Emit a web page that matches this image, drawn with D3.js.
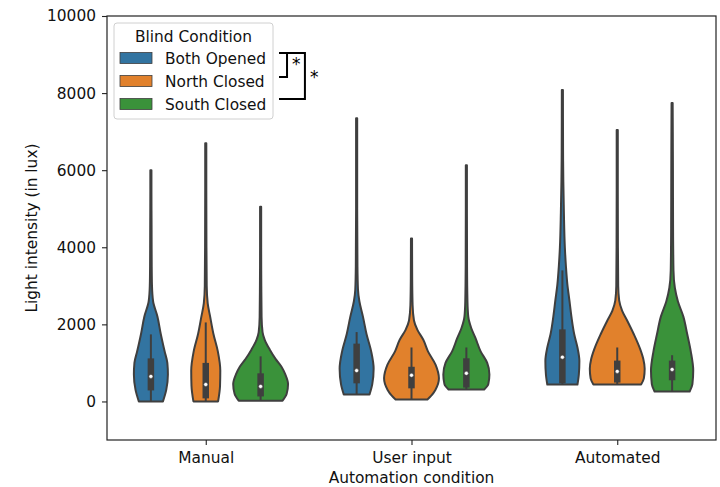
<!DOCTYPE html>
<html><head><meta charset="utf-8">
<script src="https://cdn.jsdelivr.net/npm/d3@7"></script>
<style>
body{margin:0;background:#fff;}
text{font-family:"DejaVu Sans",sans-serif;fill:#111;}
</style></head>
<body><svg id="c" width="720" height="487"></svg>
<script>
// ---- data ----
const categories = ["Manual", "User input", "Automated"];
const hues = ["Both Opened", "North Closed", "South Closed"];
const hueColors = ["#3274a1", "#e1812c", "#3a923a"];
const yTicks = [0, 2000, 4000, 6000, 8000, 10000];

// violin profiles: [light value, relative density (half-width fraction)]
const manualBoth = [[0,0.44],[300,0.56],[700,0.62],[1000,0.6],[1300,0.5],[1750,0.36],[2200,0.24],[2600,0.08],[3000,0.04],[3500,0.03],[4500,0.025],[5500,0.02],[6000,0.02]];
const manualNorth = [[0,0.45],[400,0.52],[800,0.53],[1300,0.44],[1750,0.28],[2200,0.16],[2550,0.07],[3000,0.035],[4000,0.025],[5500,0.02],[6700,0.02]];
const manualSouth = [[20,0.8],[200,0.95],[450,1.0],[700,0.9],[900,0.76],[1100,0.55],[1350,0.33],[1600,0.15],[1800,0.07],[2200,0.035],[3000,0.025],[4000,0.02],[5050,0.02]];
const userBoth = [[180,0.47],[450,0.57],[850,0.62],[1300,0.53],[1750,0.36],[2200,0.23],[2600,0.1],[2900,0.05],[3500,0.03],[5000,0.02],[6500,0.02],[7350,0.02]];
const userNorth = [[50,0.58],[150,0.72],[300,0.87],[600,1.0],[950,0.88],[1300,0.6],[1600,0.43],[1850,0.22],[2100,0.09],[2500,0.04],[3200,0.025],[4230,0.02]];
const userSouth = [[310,0.65],[450,0.8],[700,0.84],[1000,0.76],[1300,0.52],[1650,0.33],[1900,0.18],[2200,0.07],[2600,0.04],[3500,0.025],[5000,0.02],[6130,0.02]];
const autoBoth = [[440,0.55],[700,0.6],[1050,0.62],[1400,0.55],[1750,0.43],[2200,0.33],[2600,0.26],[3050,0.18],[3500,0.13],[4000,0.09],[4900,0.055],[5700,0.035],[6500,0.025],[8080,0.02]];
const autoNorth = [[440,0.87],[600,0.97],[850,1.0],[1100,0.95],[1350,0.84],[1750,0.6],[2100,0.36],[2350,0.18],[2620,0.07],[3000,0.035],[4000,0.025],[5500,0.02],[7040,0.02]];
const autoSouth = [[260,0.64],[450,0.74],[800,0.77],[1300,0.68],[1750,0.55],[2200,0.41],[2600,0.21],[2950,0.1],[3400,0.05],[4500,0.035],[6000,0.03],[7000,0.025],[7740,0.02]];
const profiles = [[manualBoth, manualNorth, manualSouth],[userBoth, userNorth, userSouth],[autoBoth, autoNorth, autoSouth]];

// inner box stats: [whisker low, q1, median, q3, whisker high]
const manualBox = [[0,286,650,1117,1740],[0,80,440,1000,2050],[20,130,390,730,1170]];
const userBox = [[180,470,800,1500,1800],[50,340,680,900,1400],[310,360,730,1120,1400]];
const autoBox = [[440,470,1150,1870,3400],[440,490,780,1060,1400],[260,550,830,1060,1200]];
const boxes = [manualBox, userBox, autoBox];

// significance brackets (category units, lux)
const brackets = [
  {x0:0.356, x1:0.395, yTop:9040, yBot:8417, starX:0.44, starY:8600},
  {x0:0.356, x1:0.482, yTop:9040, yBot:7846, starX:0.527, starY:8260}
];

// ---- layout ----
const svg = d3.select("#c");
const L=107, R=716, T=16, B=440;
const x = d3.scaleLinear().domain([-0.48, 2.48]).range([L, R]);
const y = d3.scaleLinear().domain([-1000, 10000]).range([B, T]);
const hueWidth = 0.8 / hues.length;
const halfW = x(hueWidth/2) - x(0);
const gray = "#3f3f3f";
const FS = 15.4;

const g = svg.append("g");

categories.forEach((cat, ci) => {
  hues.forEach((h, hi) => {
    const cx = x(ci + (hi - 1) * hueWidth);
    const area = d3.area()
      .y(d => y(d[0]))
      .x0(d => cx - halfW * d[1])
      .x1(d => cx + halfW * d[1])
      .curve(d3.curveMonotoneY);
    g.append("path").attr("d", area(profiles[ci][hi]))
      .attr("fill", hueColors[hi]).attr("stroke", gray).attr("stroke-width", 2)
      .attr("stroke-linejoin", "round");
    const b = boxes[ci][hi];
    g.append("line").attr("x1", cx).attr("x2", cx).attr("y1", y(b[0])).attr("y2", y(b[4]))
      .attr("stroke", gray).attr("stroke-width", 2);
    g.append("line").attr("x1", cx).attr("x2", cx).attr("y1", y(b[1])).attr("y2", y(b[3]))
      .attr("stroke", gray).attr("stroke-width", 6.5);
    g.append("circle").attr("cx", cx).attr("cy", y(b[2])).attr("r", 2)
      .attr("fill", "#fff").attr("stroke", gray).attr("stroke-width", 0.5);
  });
});

// axes frame
svg.append("rect").attr("x", L).attr("y", T).attr("width", R-L).attr("height", B-T)
  .attr("fill", "none").attr("stroke", "#222").attr("stroke-width", 1.2);

// y axis
const yAxis = svg.append("g").attr("transform", `translate(${L},0)`)
  .call(d3.axisLeft(y).tickValues(yTicks).tickSize(5).tickPadding(6).tickFormat(d3.format("d")));
yAxis.select(".domain").remove();
yAxis.selectAll("line").attr("stroke", "#222").attr("stroke-width", 1.1);
yAxis.selectAll("text").style("font-size", FS + "px").attr("fill", "#111");

// x axis
const xAxis = svg.append("g").attr("transform", `translate(0,${B})`)
  .call(d3.axisBottom(x).tickValues([0,1,2]).tickSize(5).tickPadding(7).tickFormat(i => categories[i]));
xAxis.select(".domain").remove();
xAxis.selectAll("line").attr("stroke", "#222").attr("stroke-width", 1.1);
xAxis.selectAll("text").style("font-size", FS + "px").attr("fill", "#111");

// axis labels
svg.append("text").attr("x", (L+R)/2).attr("y", 483).attr("text-anchor", "middle")
  .style("font-size", FS + "px").text("Automation condition");
svg.append("text").attr("transform", `translate(37,${(T+B)/2}) rotate(-90)`).attr("text-anchor", "middle")
  .style("font-size", FS + "px").text("Light intensity (in lux)");

// legend
const lg = svg.append("g");
lg.append("rect").attr("x", 114).attr("y", 23).attr("width", 159).attr("height", 96).attr("rx", 3)
  .attr("fill", "#fff").attr("fill-opacity", 0.8).attr("stroke", "#d0d0d0").attr("stroke-width", 1);
lg.append("text").attr("x", 193.5).attr("y", 41.5).attr("text-anchor", "middle")
  .style("font-size", FS + "px").text("Blind Condition");
hues.forEach((h, i) => {
  const cy = 58 + i * 23;
  lg.append("rect").attr("x", 120).attr("y", cy - 5.5).attr("width", 32).attr("height", 11)
    .attr("fill", hueColors[i]).attr("stroke", gray).attr("stroke-width", 0.8);
  lg.append("text").attr("x", 165).attr("y", cy + 5.5).style("font-size", FS + "px").text(h);
});

// significance brackets
brackets.forEach(bk => {
  svg.append("path")
    .attr("d", `M${x(bk.x0)},${y(bk.yTop)}H${x(bk.x1)}V${y(bk.yBot)}H${x(bk.x0)}`)
    .attr("fill", "none").attr("stroke", "#000").attr("stroke-width", 2);
  svg.append("text").attr("x", x(bk.starX)).attr("y", y(bk.starY)).attr("text-anchor", "middle")
    .style("font-size", "17px").style("fill", "#000").text("*");
});
</script></body></html>
